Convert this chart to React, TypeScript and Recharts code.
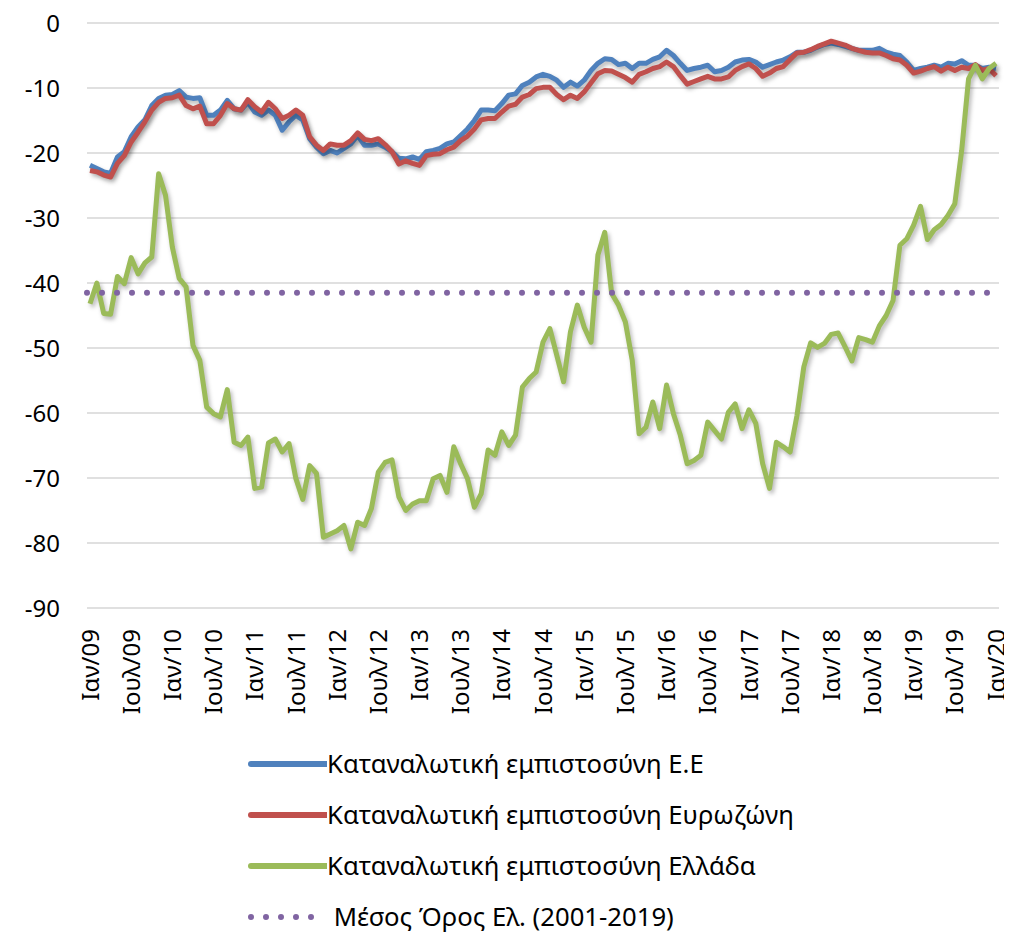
import { CartesianGrid, Legend, Line, LineChart, ReferenceLine, XAxis, YAxis } from 'recharts'

const MONTHS = ['Ιαν', 'Φεβ', 'Μαρ', 'Απρ', 'Μαϊ', 'Ιουν', 'Ιουλ', 'Αυγ', 'Σεπ', 'Οκτ', 'Νοε', 'Δεκ']
const YEARS = ['09', '10', '11', '12', '13', '14', '15', '16', '17', '18', '19', '20']
const Y_TICKS = [0, -10, -20, -30, -40, -50, -60, -70, -80, -90]

const EU = [
  -21.9, -22.4, -22.9, -23.1, -20.6, -19.8, -17.5, -16.0, -14.9, -12.7, -11.6, -11.1,
  -11.0, -10.4, -11.4, -11.6, -11.5, -14.2, -14.2, -13.4, -11.9, -13.2, -13.4, -12.2,
  -13.7, -14.2, -13.4, -14.2, -16.5, -15.2, -14.2, -14.9, -17.8, -19.1, -20.1, -19.6,
  -20.0, -19.3, -18.6, -17.3, -18.8, -18.8, -18.6, -19.1, -19.8, -20.8, -20.9, -20.6,
  -21.0, -19.8, -19.6, -19.3, -18.6, -18.3, -17.3, -16.3, -15.0, -13.4, -13.4, -13.5,
  -12.4, -11.1, -10.9, -9.6, -9.1, -8.3, -7.9, -8.2, -8.8, -9.9, -9.1, -9.7,
  -8.8, -7.3, -6.2, -5.5, -5.6, -6.4, -6.2, -7.0, -6.2, -6.2, -5.6, -5.2,
  -4.2, -5.0, -6.2, -7.3, -7.0, -6.8, -6.5, -7.5, -7.3, -6.8, -6.0, -5.7,
  -5.6, -6.0, -6.8, -6.4, -6.0, -5.7, -5.2, -4.5, -4.5, -4.2, -3.7, -3.3,
  -3.1, -3.3, -3.6, -3.9, -4.2, -4.2, -4.2, -3.9, -4.5, -4.8, -5.0, -6.0,
  -7.3, -7.0, -6.8, -6.5, -6.8, -6.2, -6.3, -5.8, -6.5, -6.5, -7.0, -6.8,
  -7.0,
]

const EUROZONE = [
  -22.7, -22.9, -23.4, -23.7, -21.6, -20.4, -18.3, -16.8, -15.2, -13.4, -12.2, -11.6,
  -11.5, -11.1, -12.7, -13.2, -12.8, -15.5, -15.5, -14.2, -12.4, -13.2, -13.4, -11.8,
  -12.9, -13.7, -12.2, -13.2, -14.7, -14.2, -13.4, -14.2, -17.5, -18.8, -19.6, -18.6,
  -18.8, -18.8, -18.1, -16.9, -17.9, -18.1, -17.8, -18.7, -19.8, -21.7, -21.2, -21.6,
  -21.9, -20.4, -20.2, -20.1, -19.5, -19.1, -18.1, -17.4, -16.3, -14.9, -14.7, -14.7,
  -13.7, -12.8, -12.5, -11.4, -11.0, -10.1, -9.9, -9.9, -11.0, -11.8, -11.1, -11.6,
  -10.6, -9.2, -7.8, -7.3, -7.4, -7.9, -8.4, -9.1, -7.9, -7.5, -7.0, -6.7,
  -6.0, -6.7, -8.1, -9.4, -9.0, -8.6, -8.2, -8.6, -8.6, -8.3, -7.3, -6.7,
  -6.3, -7.0, -8.2, -7.7, -7.0, -6.7, -5.6, -4.6, -4.5, -4.1, -3.6, -3.2,
  -2.8, -3.1, -3.4, -3.9, -4.2, -4.5, -4.6, -4.6, -5.0, -5.5, -5.7, -6.5,
  -7.7, -7.4, -7.0, -6.7, -7.4, -6.8, -7.3, -6.8, -7.0, -6.4, -7.3, -7.0,
  -8.1,
]

const GREECE = [
  -43.2, -40.0, -44.7, -44.8, -39.0, -40.1, -36.1, -38.6, -36.9, -36.0, -23.2, -26.5,
  -34.5, -39.3, -40.6, -49.6, -51.9, -59.1, -60.1, -60.6, -56.4, -64.5, -65.0, -63.7,
  -71.6, -71.4, -64.6, -64.0, -66.0, -64.7, -70.1, -73.3, -68.1, -69.3, -79.1, -78.6,
  -78.1, -77.3, -80.9, -76.8, -77.3, -74.7, -69.1, -67.6, -67.2, -72.9, -75.0, -74.0,
  -73.5, -73.5, -70.1, -69.6, -72.2, -65.2, -67.8, -70.1, -74.5, -72.4, -65.7, -66.5,
  -62.9, -65.0, -63.4, -56.0, -54.7, -53.7, -49.1, -47.0, -51.1, -55.2, -47.5, -43.4,
  -46.8, -49.1, -35.7, -32.2, -41.6, -43.4, -46.0, -51.9, -63.2, -62.2, -58.3, -62.4,
  -55.7, -60.1, -63.4, -67.8, -67.3, -66.5, -61.4, -62.7, -64.0, -59.9, -58.6, -62.4,
  -59.5, -61.6, -67.8, -71.6, -64.5, -65.2, -66.0, -60.4, -52.9, -49.2, -49.9, -49.3,
  -47.9, -47.7, -49.8, -52.0, -48.4, -48.7, -49.1, -46.6, -45.0, -42.7, -34.2, -33.2,
  -31.1, -28.2, -33.3, -31.8, -31.0, -29.6, -27.8, -19.6, -8.6, -6.5, -8.6, -7.0,
  -6.2,
]

const GREECE_MEAN = -41.5

const SERIES = [
  { key: 'eu', name: 'Καταναλωτική εμπιστοσύνη Ε.Ε', color: '#4F81BD' },
  { key: 'ez', name: 'Καταναλωτική εμπιστοσύνη Ευρωζώνη', color: '#C0504D' },
  { key: 'gr', name: 'Καταναλωτική εμπιστοσύνη Ελλάδα', color: '#9BBB59' },
]
const MEAN_NAME = ' Μέσος Όρος Ελ. (2001-2019)'
const MEAN_COLOR = '#8064A2'

const FONT = '"Noto Sans", "DejaVu Sans", sans-serif'

const rows = EU.map((v, i) => ({
  month: `${MONTHS[i % 12]}/${YEARS[Math.floor(i / 12)]}`,
  eu: v,
  ez: EUROZONE[i],
  gr: GREECE[i],
}))

function MonthTick({ x, y, payload }: any) {
  return (
    <text
      transform={`translate(${x},${y}) rotate(-90)`}
      textAnchor="end"
      dy="0.36em"
      fontSize={24}
      fontFamily={FONT}
      fill="#000"
    >
      {payload.value}
    </text>
  )
}

function LegendBox() {
  const items = [
    ...SERIES.map((s) => ({ name: s.name, color: s.color, dotted: false })),
    { name: MEAN_NAME, color: MEAN_COLOR, dotted: true },
  ]
  return (
    <div style={{ height: 190, paddingLeft: 239, fontFamily: FONT, fontSize: 25.7, color: '#000' }}>
      <div style={{ position: 'relative', top: -4 }}>
        {items.map((it) => (
          <div key={it.name} style={{ height: 51, display: 'flex', alignItems: 'center' }}>
            <svg width={80} height={12} style={{ flex: 'none' }}>
              {it.dotted ? (
                <line x1={4} y1={6} x2={66} y2={6} stroke={it.color} strokeWidth={6} strokeLinecap="round" strokeDasharray="0 15" />
              ) : (
                <line x1={4} y1={6} x2={79} y2={6} stroke={it.color} strokeWidth={6} strokeLinecap="round" />
              )}
            </svg>
            <span style={{ whiteSpace: 'pre', lineHeight: 1 }}>{it.name}</span>
          </div>
        ))}
      </div>
    </div>
  )
}

export default function App() {
  return (
    <div>
      <style>{`.recharts-line-curve { filter: drop-shadow(2px 3px 2px rgba(0,0,0,0.28)); }`}</style>
      <LineChart width={1004} height={924} data={rows} margin={{ top: 15, right: 13, left: 0, bottom: 0 }}>
        <CartesianGrid vertical={false} stroke="#d6d6d6" strokeWidth={1.5} />
        <XAxis
          dataKey="month"
          interval={5}
          axisLine={false}
          tickLine={false}
          tickSize={0}
          tickMargin={21}
          height={134}
          padding={{ left: 3, right: 3 }}
          tick={<MonthTick />}
        />
        <YAxis
          domain={[-90, 0]}
          ticks={Y_TICKS}
          width={79}
          axisLine={false}
          tickLine={false}
          tickSize={0}
          tickMargin={27}
          tick={{ fontSize: 24, fontFamily: FONT, fill: '#000' }}
        />
        <Legend verticalAlign="bottom" align="left" content={() => <LegendBox />} />
        {SERIES.map((s) => (
          <Line
            key={s.key}
            dataKey={s.key}
            name={s.name}
            stroke={s.color}
            strokeWidth={5}
            dot={false}
            activeDot={false}
            strokeLinejoin="round"
            isAnimationActive={false}
          />
        ))}
        <ReferenceLine
          y={GREECE_MEAN}
          stroke={MEAN_COLOR}
          strokeWidth={6}
          strokeLinecap="round"
          strokeDasharray="0 15"
        />
      </LineChart>
    </div>
  )
}
